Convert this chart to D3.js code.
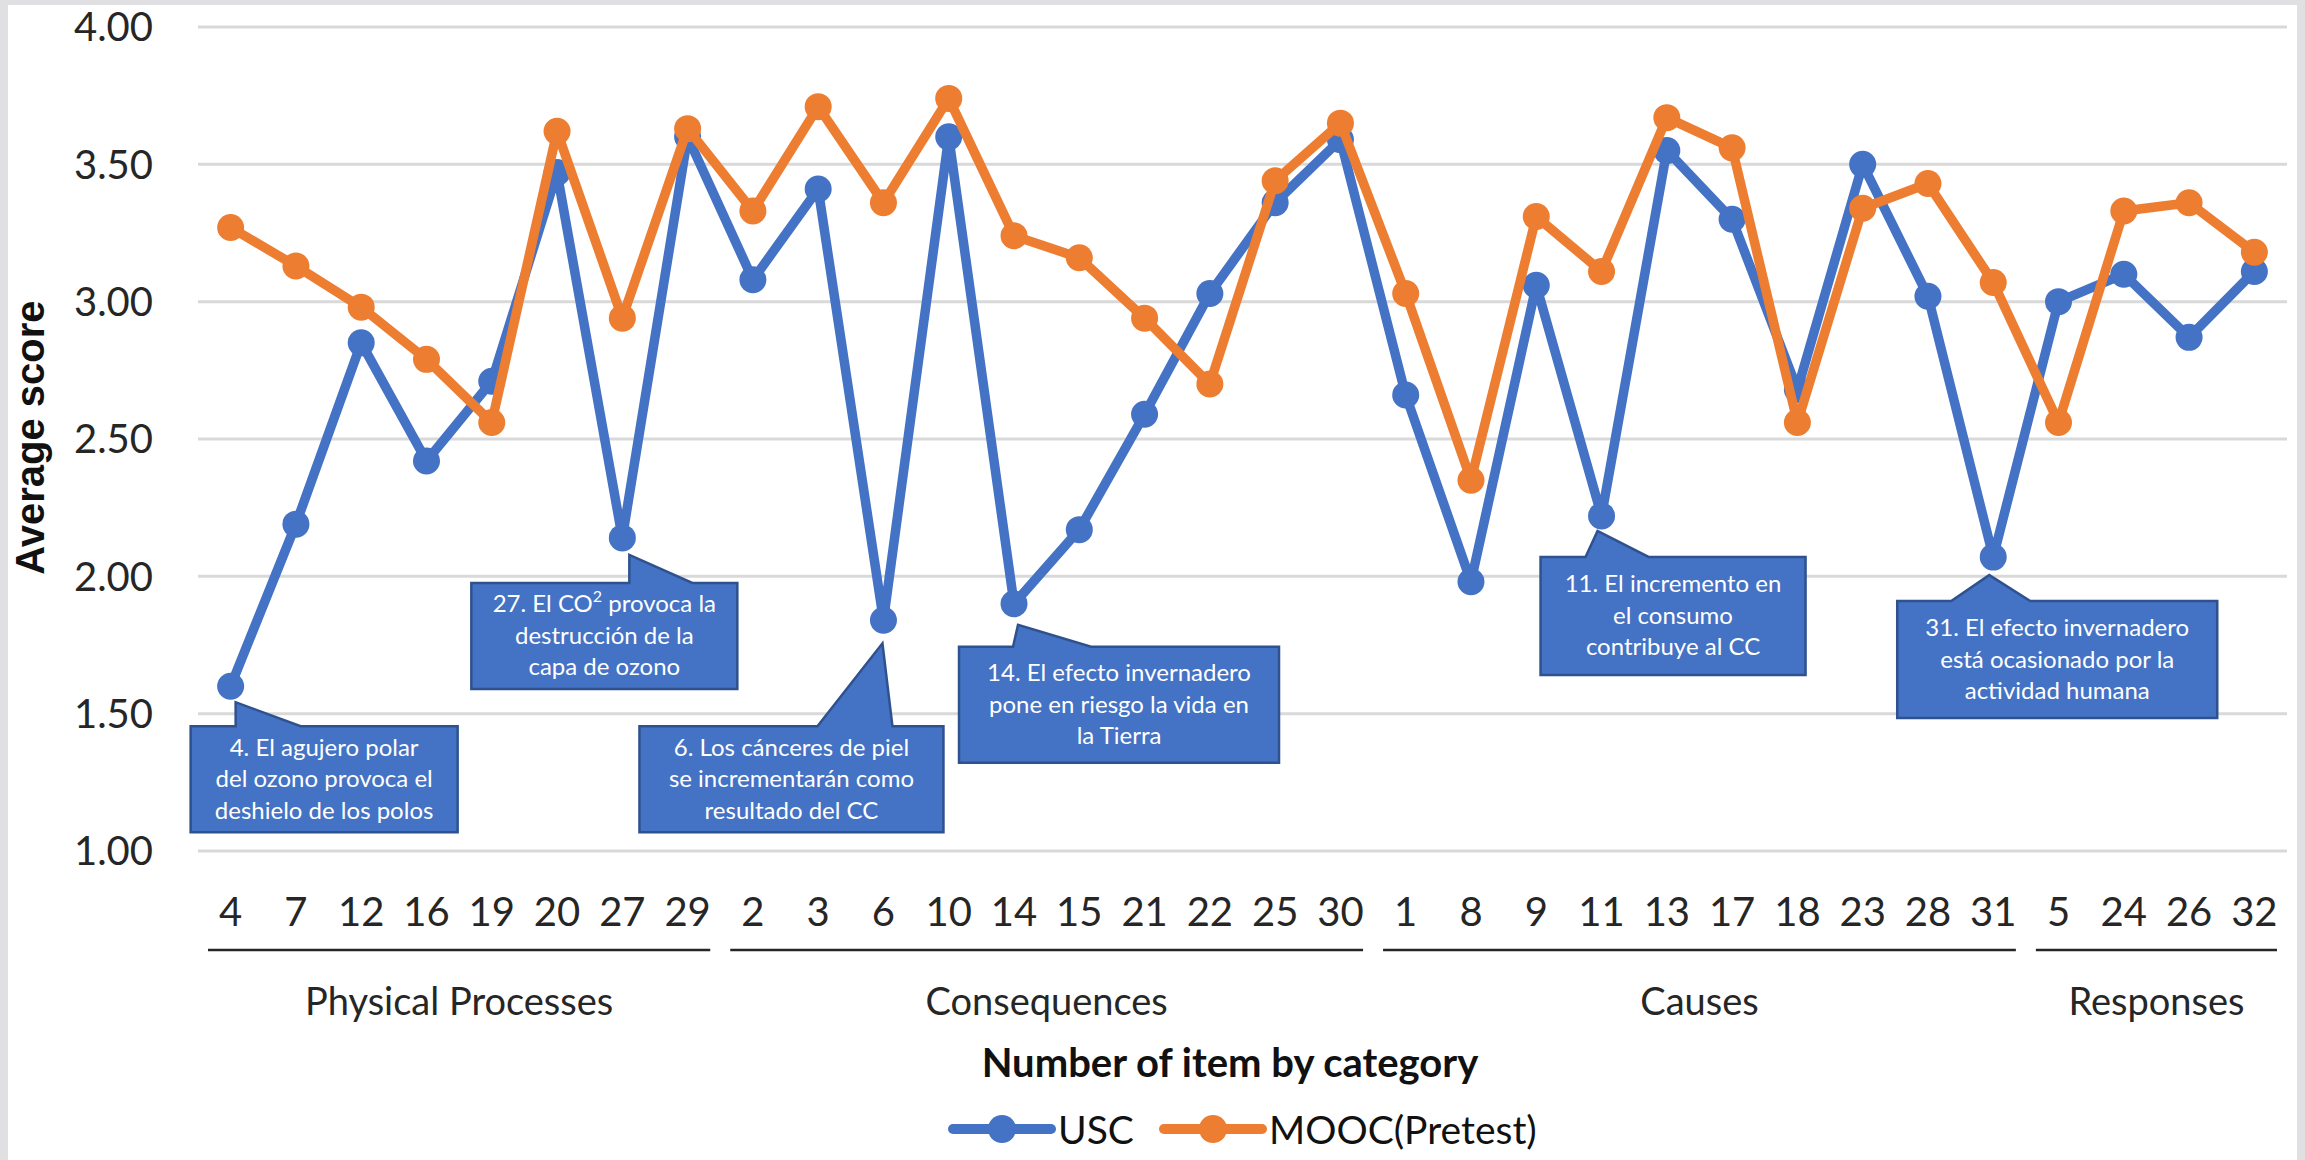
<!DOCTYPE html>
<html>
<head>
<meta charset="utf-8">
<script src="https://cdn.jsdelivr.net/npm/d3@7"></script>
<style>
  body { margin: 0; background: #e0e0e2; }
  svg { display: block; }
</style>
</head>
<body>
<div id="graph"></div>
<script>
const W = 2305, H = 1160;

// items, in the order they appear on the x axis
const items = [4, 7, 12, 16, 19, 20, 27, 29,
  2, 3, 6, 10, 14, 15, 21, 22, 25, 30,
  1, 8, 9, 11, 13, 17, 18, 23, 28, 31,
  5, 24, 26, 32];
const groupNames = ["Physical Processes", "Consequences", "Causes", "Responses"];
const groupSizes = [8, 10, 10, 4];

const usc = [1.60, 2.19, 2.85, 2.42, 2.71, 3.47, 2.14, 3.60,
  3.08, 3.41, 1.84, 3.60, 1.90, 2.17, 2.59, 3.03, 3.36, 3.59,
  2.66, 1.98, 3.06, 2.22, 3.55, 3.30, 2.68, 3.50, 3.02, 2.07,
  3.00, 3.10, 2.87, 3.11];
const mooc = [3.27, 3.13, 2.98, 2.79, 2.56, 3.62, 2.94, 3.63,
  3.33, 3.71, 3.36, 3.74, 3.24, 3.16, 2.94, 2.70, 3.44, 3.65,
  3.03, 2.35, 3.31, 3.11, 3.67, 3.56, 2.56, 3.34, 3.43, 3.07,
  2.56, 3.33, 3.36, 3.18];
const yTicks = [1.00, 1.50, 2.00, 2.50, 3.00, 3.50, 4.00];

const seriesNames = ["USC", "MOOC(Pretest)"];
const colors = ["#4472C4", "#ED7D31"];

// callout notes, tied to the index of the point they point at
const noteIdx = [0, 6, 10, 12, 21, 27];
const noteText = [
  ["4. El agujero polar", "del ozono provoca el", "deshielo de los polos"],
  ["27. El CO^2 provoca la", "destrucción de la", "capa de ozono"],
  ["6. Los cánceres de piel", "se incrementarán como", "resultado del CC"],
  ["14. El efecto invernadero", "pone en riesgo la vida en", "la Tierra"],
  ["11. El incremento en", "el consumo", "contribuye al CC"],
  ["31. El efecto invernadero", "está ocasionado por la", "actividad humana"]
];
// box placement relative to the point: [dx, dy, w, h, tailL, tailR, tipdx, tipdy]
const noteBox = [
  [-40, 40, 267, 106, 45, 110, 5, 16],
  [-151, 45, 266, 106, 158, 221, 7, 17],
  [-244, 106, 304, 106, 178, 253, -1, 23],
  [-55, 43, 320, 116, 54, 132, 4, 21],
  [-61, 41, 265, 118, 45, 108, -4, 15],
  [-96, 44, 320, 117, 54, 133, -4, 18]
];

const font = "Lato, 'Open Sans', sans-serif";

const svg = d3.select('#graph').append('svg')
  .attr('width', W).attr('height', H);

svg.append('rect').attr('x', 0).attr('y', 0).attr('width', W).attr('height', H).attr('fill', '#e0e0e2');
svg.append('rect').attr('x', 8).attr('y', 5).attr('width', 2289).attr('height', H).attr('fill', '#ffffff');

const x = d3.scaleBand().domain(d3.range(items.length)).range([198, 2287]);
const y = d3.scaleLinear().domain([1, 4]).range([851, 27]);

// gridlines
svg.append('g').selectAll('line').data(yTicks).join('line')
  .attr('x1', 198).attr('x2', 2287)
  .attr('y1', d => y(d)).attr('y2', d => y(d))
  .attr('stroke', '#d9d9d9').attr('stroke-width', 3);

// y axis labels
svg.append('g').selectAll('text').data(yTicks).join('text')
  .attr('x', 153).attr('y', d => y(d)).attr('dy', '0.36em')
  .attr('text-anchor', 'end')
  .style('font-family', font).style('font-size', '40px').attr('fill', '#262626')
  .text(d => d.toFixed(2));

svg.append('text')
  .attr('transform', `translate(44, ${(302 + 573) / 2}) rotate(-90)`)
  .attr('text-anchor', 'middle')
  .style('font-family', "'Liberation Sans', Arial, sans-serif").style('font-size', '40px')
  .style('font-weight', 'bold').attr('fill', '#111')
  .text('Average score');

// x tick labels
svg.append('g').selectAll('text').data(items).join('text')
  .attr('x', (d, i) => x(i) + x.bandwidth() / 2).attr('y', 926)
  .attr('text-anchor', 'middle')
  .style('font-family', font).style('font-size', '40px').attr('fill', '#262626')
  .text(d => d);

// category groups
let start = 0;
const groups = groupNames.map((name, g) => {
  const o = { name: name, a: start, b: start + groupSizes[g] - 1 };
  start += groupSizes[g];
  return o;
});
const gg = svg.append('g');
gg.selectAll('line').data(groups).join('line')
  .attr('x1', d => x(d.a) + 10).attr('x2', d => x(d.b) + x.bandwidth() - 10)
  .attr('y1', 950).attr('y2', 950)
  .attr('stroke', '#262626').attr('stroke-width', 2.5);
gg.selectAll('text').data(groups).join('text')
  .attr('x', d => (x(d.a) + x(d.b) + x.bandwidth()) / 2).attr('y', 1015)
  .attr('text-anchor', 'middle')
  .style('font-family', font).style('font-size', '38px').attr('fill', '#262626')
  .text(d => d.name);

svg.append('text')
  .attr('x', 1230).attr('y', 1077).attr('text-anchor', 'middle')
  .style('font-family', font).style('font-size', '40px').style('font-weight', 'bold')
  .attr('fill', '#111')
  .text('Number of item by category');

// series
const line = d3.line().x((d, i) => x(i) + x.bandwidth() / 2).y(d => y(d));
[usc, mooc].forEach((vals, s) => {
  const g = svg.append('g');
  g.append('path').attr('d', line(vals))
    .attr('fill', 'none').attr('stroke', colors[s]).attr('stroke-width', 9.5)
    .attr('stroke-linejoin', 'round');
  g.selectAll('circle').data(vals).join('circle')
    .attr('cx', (d, i) => x(i) + x.bandwidth() / 2).attr('cy', d => y(d))
    .attr('r', 13.5).attr('fill', colors[s]);
});

// callouts
noteIdx.forEach((idx, k) => {
  const px = x(idx) + x.bandwidth() / 2, py = y(usc[idx]);
  const [dx, dy, w, h, tl, tr, tx, ty] = noteBox[k];
  const L = px + dx, T = py + dy;
  const path = [[L, T], [L + tl, T], [px + tx, py + ty], [L + tr, T], [L + w, T], [L + w, T + h], [L, T + h]];
  svg.append('path').attr('d', d3.line()(path) + 'Z')
    .attr('fill', '#4472C4').attr('stroke', '#2f528f').attr('stroke-width', 2.5);
  noteText[k].forEach((ln, j) => {
    const by = T + h / 2 + 8 + (j - 1) * 31.5;
    const t = svg.append('text').attr('text-anchor', 'middle')
      .style('font-family', font).style('font-size', '24px').attr('fill', '#ffffff')
      .attr('x', L + w / 2).attr('y', by);
    const parts = ln.split('^');
    if (parts.length === 1) {
      t.text(ln);
    } else {
      const sup = parts[1].charAt(0), rest = parts[1].slice(1);
      t.append('tspan').text(parts[0]);
      t.append('tspan').attr('dy', -10).style('font-size', '16px').text(sup);
      t.append('tspan').attr('dy', 10).text(rest);
    }
  });
});

// legend
const legX = [953, 1164];
seriesNames.forEach((name, s) => {
  const g = svg.append('g').attr('transform', `translate(${legX[s]}, 1129)`);
  g.append('line').attr('x1', 0).attr('x2', 98).attr('y1', 0).attr('y2', 0)
    .attr('stroke', colors[s]).attr('stroke-width', 10).attr('stroke-linecap', 'round');
  g.append('circle').attr('cx', 49).attr('cy', 0).attr('r', 14).attr('fill', colors[s]);
  g.append('text').attr('x', 105).attr('y', 15)
    .style('font-family', font).style('font-size', '39px').attr('fill', '#111')
    .text(name);
});
</script>
</body>
</html>
